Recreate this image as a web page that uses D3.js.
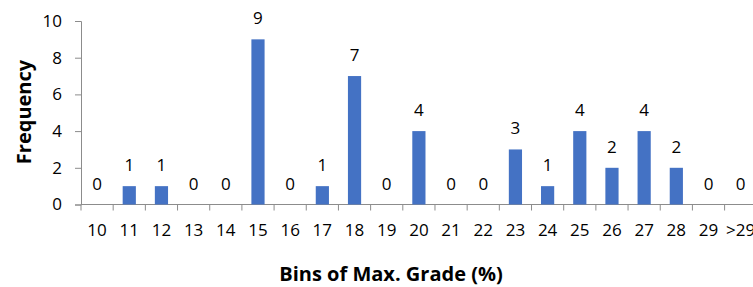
<!DOCTYPE html>
<html>
<head>
<meta charset="utf-8">
<script src="https://cdn.jsdelivr.net/npm/d3@7"></script>
<style>
	body { margin: 0; background: #fff; }
	text { font-family: "Open Sans", sans-serif; fill: #000; }
</style>
</head>
<body>
<div id="chart"></div>
<script>
var bins = ["10", "11", "12", "13", "14", "15", "16", "17", "18", "19", "20", "21", "22", "23", "24", "25", "26", "27", "28", "29", ">29"]
var frequency = [0, 1, 1, 0, 0, 9, 0, 1, 7, 0, 4, 0, 0, 3, 1, 4, 2, 4, 2, 0, 0]
var yTicks = [0, 2, 4, 6, 8, 10]

var data = bins.map((b, i) => ({bin: b, value: frequency[i]}))

var width = 753, height = 287
var left = 81, bandStep = 32.18
var bottomY = 204.5, topY = 21

const svg = d3.select("#chart")
	.append("svg")
	.attr("width", width)
	.attr("height", height)

const x = d3.scaleBand()
	.domain(bins)
	.range([left, left + bandStep * bins.length])
	.paddingInner(0.59)
	.paddingOuter(0.295)

const y = d3.scaleLinear()
	.domain([0, 10])
	.range([bottomY, topY])

// y axis
const yAxis = svg.append("g")
	.attr("transform", `translate(${left},0)`)
	.call(d3.axisLeft(y).tickValues(yTicks).tickSize(6).tickPadding(13))
yAxis.selectAll("path, line").attr("stroke", "#8c8c8c")
yAxis.selectAll("text").style("font-size", "17px").attr("font-family", null)

// x axis, ticks sit between the categories
const xAxis = svg.append("g")
	.attr("transform", `translate(0,${bottomY})`)
xAxis.append("line")
	.attr("x1", left).attr("x2", width)
	.attr("stroke", "#8c8c8c")
xAxis.selectAll(".tick")
	.data(bins)
	.join("line")
	.attr("class", "tick")
	.attr("x1", (d, i) => left + bandStep * i)
	.attr("x2", (d, i) => left + bandStep * i)
	.attr("y1", 0).attr("y2", 6)
	.attr("stroke", "#8c8c8c")
xAxis.selectAll(".lbl")
	.data(bins)
	.join("text")
	.attr("class", "lbl")
	.attr("x", d => x(d) + x.bandwidth() / 2)
	.attr("y", 31)
	.attr("text-anchor", "middle")
	.style("font-size", "17px")
	.text(d => d)

// bars
svg.append("g")
	.selectAll("rect")
	.data(data)
	.join("rect")
	.attr("x", d => x(d.bin))
	.attr("width", x.bandwidth())
	.attr("y", d => y(d.value))
	.attr("height", d => y(0) - y(d.value))
	.attr("fill", "#4472c4")

// value labels
svg.append("g")
	.selectAll("text")
	.data(data)
	.join("text")
	.attr("x", d => x(d.bin) + x.bandwidth() / 2)
	.attr("y", d => y(d.value) - 15)
	.attr("text-anchor", "middle")
	.style("font-size", "17px")
	.text(d => d.value)

// axis titles
svg.append("text")
	.attr("transform", "translate(31,112) rotate(-90)")
	.attr("text-anchor", "middle")
	.style("font-size", "20px")
	.style("font-weight", "bold")
	.text("Frequency")

svg.append("text")
	.attr("x", 391)
	.attr("y", 281)
	.attr("text-anchor", "middle")
	.style("font-size", "20px")
	.style("font-weight", "bold")
	.text("Bins of Max. Grade (%)")
</script>
</body>
</html>
